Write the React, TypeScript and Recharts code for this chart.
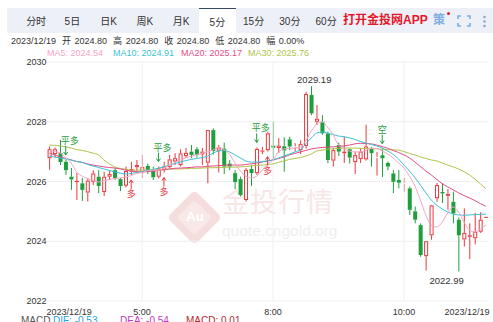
import React from 'react';
import {
  ComposedChart,
  Bar,
  Line,
  XAxis,
  YAxis,
  CartesianGrid,
  ReferenceLine,
  ReferenceDot,
} from 'recharts';

// 5-minute bars, 2023/12/19 (market pause 6:00-7:00)
const times = [
  '3:35', '3:40', '3:45', '3:50', '3:55', '4:00', '4:05', '4:10', '4:15', '4:20',
  '4:25', '4:30', '4:35', '4:40', '4:45', '4:50', '4:55', '5:00', '5:05', '5:10',
  '5:15', '5:20', '5:25', '5:30', '5:35', '5:40', '5:45', '5:50', '5:55', '7:00',
  '7:05', '7:10', '7:15', '7:20', '7:25', '7:30', '7:35', '7:40', '7:45', '7:50',
  '7:55', '8:00', '8:05', '8:10', '8:15', '8:20', '8:25', '8:30', '8:35', '8:40',
  '8:45', '8:50', '8:55', '9:00', '9:05', '9:10', '9:15', '9:20', '9:25', '9:30',
  '9:35', '9:40', '9:45', '9:50', '9:55', '10:00', '10:05', '10:10', '10:15', '10:20',
  '10:25', '10:30', '10:35', '10:40', '10:45', '10:50', '10:55', '11:00', '11:05', '11:10',
  '11:15',
];

const opens = [
  2026.78, 2026.92, 2026.95, 2026.66, 2026.16, 2025.98, 2025.94, 2025.63, 2025.99, 2026.16,
  2025.65, 2026.16, 2026.38, 2026.08, 2025.86, 2026.33, 2026.48, 2026.30, 2026.52, 2026.36,
  2026.16, 2026.38, 2026.48, 2026.67, 2026.55, 2026.85, 2027.00, 2027.08, 2026.91, 2026.63,
  2027.72, 2027.03, 2027.10, 2026.60, 2026.28, 2026.08, 2025.38, 2026.42, 2026.28, 2027.00,
  2027.05, 2027.20, 2027.12, 2027.18, 2027.41, 2027.15, 2027.05, 2027.19, 2028.90, 2028.00,
  2028.00, 2027.61, 2026.70, 2027.22, 2026.95, 2027.08, 2026.65, 2026.75, 2026.74, 2027.10,
  2026.79, 2026.88, 2026.62, 2026.27, 2026.05, 2025.92, 2025.77, 2025.00, 2024.54, 2023.50,
  2024.20, 2025.44, 2025.65, 2025.52, 2025.32, 2024.72, 2024.06, 2024.15, 2024.10, 2024.32,
  2024.80,
];

const highs = [
  2027.17, 2027.14, 2027.39, 2026.72, 2026.45, 2026.28, 2026.12, 2026.12, 2026.38, 2026.38,
  2026.33, 2026.36, 2026.45, 2026.12, 2026.50, 2026.66, 2026.72, 2026.89, 2026.60, 2026.50,
  2026.50, 2026.66, 2026.89, 2026.95, 2027.08, 2027.12, 2027.22, 2027.16, 2027.12, 2027.72,
  2027.78, 2027.22, 2027.30, 2026.72, 2026.38, 2026.16, 2026.45, 2026.55, 2027.14, 2027.16,
  2027.67, 2028.00, 2027.45, 2027.48, 2027.50, 2027.28, 2027.38, 2029.00, 2029.19, 2028.56,
  2028.22, 2027.67, 2027.12, 2027.30, 2027.50, 2027.10, 2027.00, 2027.12, 2027.90, 2027.16,
  2026.99, 2027.10, 2026.67, 2026.38, 2026.38, 2026.12, 2025.83, 2025.16, 2024.60, 2024.00,
  2025.22, 2025.95, 2025.95, 2025.75, 2025.66, 2024.80, 2025.10, 2024.60, 2024.95, 2024.97,
  2024.80,
];

const lows = [
  2026.39, 2026.80, 2026.55, 2026.22, 2025.72, 2025.38, 2025.35, 2025.33, 2025.88, 2025.61,
  2025.51, 2026.05, 2026.05, 2025.68, 2025.80, 2026.22, 2026.28, 2026.12, 2026.25, 2026.05,
  2026.10, 2026.30, 2026.44, 2026.55, 2026.50, 2026.78, 2026.78, 2026.80, 2026.55, 2025.94,
  2026.90, 2026.30, 2026.25, 2026.38, 2025.75, 2025.50, 2025.33, 2025.85, 2026.22, 2026.92,
  2027.00, 2026.72, 2026.95, 2026.33, 2027.05, 2027.00, 2026.92, 2027.10, 2028.22, 2027.89,
  2027.56, 2026.61, 2026.50, 2026.85, 2026.62, 2026.60, 2026.25, 2026.62, 2026.70, 2026.50,
  2026.20, 2026.15, 2026.38, 2025.61, 2025.77, 2025.66, 2024.88, 2024.60, 2023.48, 2023.02,
  2024.05, 2025.32, 2025.28, 2025.05, 2024.60, 2022.99, 2023.82, 2023.40, 2023.90, 2024.28,
  2024.80,
];

const closes = [
  2027.08, 2027.08, 2026.65, 2026.38, 2026.07, 2026.02, 2025.72, 2026.03, 2026.27, 2025.85,
  2026.16, 2026.25, 2026.11, 2025.85, 2026.35, 2026.42, 2026.55, 2026.48, 2026.38, 2026.14,
  2026.44, 2026.50, 2026.74, 2026.78, 2026.94, 2026.96, 2026.89, 2026.89, 2027.00, 2027.72,
  2027.02, 2027.14, 2026.50, 2026.50, 2025.98, 2025.55, 2026.39, 2026.28, 2027.09, 2027.04,
  2027.61, 2027.13, 2027.20, 2027.04, 2027.17, 2027.18, 2027.25, 2028.93, 2028.28, 2028.10,
  2027.61, 2026.72, 2027.05, 2027.00, 2027.00, 2026.80, 2026.88, 2027.00, 2027.17, 2026.95,
  2026.82, 2026.78, 2026.50, 2025.99, 2025.96, 2025.95, 2025.05, 2024.72, 2023.54, 2024.00,
  2025.20, 2025.88, 2025.60, 2025.58, 2024.93, 2024.20, 2024.28, 2024.20, 2024.32, 2024.72,
  2024.80,
];

const ma5 = [
  2027.05, 2027.00, 2026.95, 2026.79, 2026.62, 2026.32, 2026.18, 2026.10, 2026.03, 2025.98,
  2026.02, 2026.07, 2026.10, 2026.12, 2026.15, 2026.20, 2026.27, 2026.30, 2026.37, 2026.38,
  2026.38, 2026.45, 2026.55, 2026.64, 2026.72, 2026.79, 2026.84, 2026.90, 2026.95, 2027.00,
  2027.05, 2027.14, 2027.07, 2026.92, 2026.62, 2026.35, 2026.18, 2026.12, 2026.18, 2026.38,
  2026.59, 2026.72, 2026.99, 2027.09, 2027.11, 2027.12, 2027.16, 2027.36, 2027.69, 2027.92,
  2027.99, 2027.82, 2027.56, 2027.22, 2027.09, 2027.02, 2026.99, 2026.99, 2027.04, 2027.11,
  2027.11, 2027.02, 2026.92, 2026.79, 2026.62, 2026.45, 2026.18, 2025.85, 2025.38, 2024.88,
  2024.54, 2024.48, 2024.64, 2024.95, 2025.15, 2024.98, 2024.64, 2024.38, 2024.31, 2024.41,
  2024.54,
];

const ma10 = [
  2026.85, 2026.82, 2026.79, 2026.75, 2026.72, 2026.67, 2026.64, 2026.57, 2026.52, 2026.47,
  2026.42, 2026.37, 2026.32, 2026.28, 2026.25, 2026.27, 2026.30, 2026.33, 2026.37, 2026.40,
  2026.45, 2026.50, 2026.55, 2026.60, 2026.65, 2026.70, 2026.74, 2026.77, 2026.80, 2026.85,
  2026.95, 2027.02, 2027.04, 2026.99, 2026.89, 2026.79, 2026.69, 2026.65, 2026.65, 2026.67,
  2026.69, 2026.72, 2026.79, 2026.85, 2026.92, 2026.99, 2027.05, 2027.26, 2027.46, 2027.62,
  2027.66, 2027.62, 2027.57, 2027.52, 2027.50, 2027.46, 2027.41, 2027.34, 2027.29, 2027.24,
  2027.19, 2027.12, 2027.02, 2026.91, 2026.75, 2026.55, 2026.35, 2026.13, 2025.88, 2025.62,
  2025.38, 2025.21, 2025.08, 2024.98, 2024.91, 2024.88, 2024.87, 2024.88, 2024.89, 2024.90,
  2024.91,
];

const ma20 = [
  2026.95, 2026.89, 2026.82, 2026.77, 2026.72, 2026.67, 2026.64, 2026.59, 2026.55, 2026.52,
  2026.49, 2026.47, 2026.45, 2026.42, 2026.38, 2026.35, 2026.33, 2026.32, 2026.33, 2026.35,
  2026.37, 2026.40, 2026.42, 2026.44, 2026.45, 2026.46, 2026.47, 2026.49, 2026.49, 2026.51,
  2026.52, 2026.53, 2026.54, 2026.55, 2026.55, 2026.55, 2026.57, 2026.59, 2026.62, 2026.65,
  2026.69, 2026.72, 2026.77, 2026.82, 2026.89, 2026.94, 2026.99, 2027.04, 2027.09, 2027.12,
  2027.14, 2027.15, 2027.16, 2027.17, 2027.19, 2027.22, 2027.26, 2027.28, 2027.27, 2027.26,
  2027.22, 2027.17, 2027.11, 2027.04, 2026.97, 2026.89, 2026.79, 2026.65, 2026.50, 2026.35,
  2026.22, 2026.07, 2025.93, 2025.82, 2025.72, 2025.62, 2025.53, 2025.45, 2025.36, 2025.26,
  2025.17,
];

const ma30 = [
  2027.22, 2027.21, 2027.19, 2027.16, 2027.12, 2027.07, 2027.04, 2027.00, 2026.95, 2026.89,
  2026.72, 2026.59, 2026.49, 2026.44, 2026.41, 2026.38, 2026.38, 2026.38, 2026.38, 2026.39,
  2026.40, 2026.40, 2026.41, 2026.42, 2026.42, 2026.43, 2026.44, 2026.44, 2026.45, 2026.46,
  2026.46, 2026.47, 2026.47, 2026.48, 2026.48, 2026.49, 2026.50, 2026.52, 2026.54, 2026.55,
  2026.57, 2026.59, 2026.64, 2026.69, 2026.74, 2026.77, 2026.80, 2026.85, 2026.92, 2027.02,
  2027.05, 2027.08, 2027.09, 2027.11, 2027.12, 2027.12, 2027.12, 2027.11, 2027.11, 2027.10,
  2027.09, 2027.08, 2027.07, 2027.06, 2027.05, 2027.00, 2026.94, 2026.89, 2026.82, 2026.77,
  2026.72, 2026.69, 2026.62, 2026.55, 2026.49, 2026.42, 2026.33, 2026.22, 2026.08, 2025.92,
  2025.76,
];

// trade signals placed on bars
const signalTimes = ['3:50', '4:50', '5:15', '5:20', '7:45', '7:55', '9:40'];
const signalTexts = ['平多', '多', '平多', '多', '平多', '多', '空'];

const yTicks = [2022, 2024, 2026, 2028, 2030];
const xTicks = ['3:35', '5:00', '8:00', '10:00', '11:15'];
const gridTimes = ['5:00', '8:00', '10:00'];
const dayLabel = '2023/12/19';

const tabs = ['分时', '5日', '日K', '周K', '月K', '5分', '15分', '30分', '60分'];
const activeTab = '5分';

const quote = [
  ['开', '2024.80'],
  ['高', '2024.80'],
  ['收', '2024.80'],
  ['低', '2024.80'],
  ['幅', '0.00%'],
];

const RED = '#e8383d';
const GREEN = '#1f9e3d';
const MA_COLORS = { ma5: '#f5a6c7', ma10: '#3cc1d6', ma20: '#e54c86', ma30: '#b0c54a' };
const FONT = '"Liberation Sans", "Noto Sans CJK SC", sans-serif';

function Candle(props: any) {
  const { x, y, width, height, payload } = props;
  const { open, close, high, low } = payload;
  const top = Math.min(y, y + height);
  const h = Math.abs(height);
  const up = close >= open;
  const color = up ? RED : GREEN;
  const cx = x + width / 2;
  if (high === low || h === 0) {
    return <line x1={x} x2={x + width} y1={top} y2={top} stroke={color} strokeWidth={1} />;
  }
  const k = h / (high - low);
  const bodyTop = top + (high - Math.max(open, close)) * k;
  const bodyH = Math.max((Math.max(open, close) - Math.min(open, close)) * k, 1);
  return (
    <g>
      <line x1={cx} x2={cx} y1={top} y2={bodyTop} stroke={color} strokeWidth={1} />
      <line x1={cx} x2={cx} y1={bodyTop + bodyH} y2={top + h} stroke={color} strokeWidth={1} />
      {up ? (
        <rect x={x + 0.5} y={bodyTop + 0.5} width={width - 1} height={Math.max(bodyH - 1, 0)} fill="#fff" stroke={color} strokeWidth={1} />
      ) : (
        <rect x={x} y={bodyTop} width={width} height={bodyH} fill={color} />
      )}
    </g>
  );
}

function SignalMark(props: any) {
  const { cx, cy, text } = props;
  if (text === '多') {
    const tip = cy + 5;
    const tail = cy + 14;
    return (
      <g>
        <line x1={cx} x2={cx} y1={tip} y2={tail} stroke={RED} strokeWidth={1} />
        <path d={`M${cx - 2},${tip + 3} L${cx},${tip} L${cx + 2},${tip + 3}`} fill="none" stroke={RED} strokeWidth={1} />
        <text x={cx} y={tail + 8} textAnchor="middle" fontSize={9} fill={RED}>{text}</text>
      </g>
    );
  }
  const tip = cy - 5;
  const tail = cy - 14;
  return (
    <g>
      <line x1={cx} x2={cx} y1={tail} y2={tip} stroke={GREEN} strokeWidth={1} />
      <path d={`M${cx - 2},${tip - 3} L${cx},${tip} L${cx + 2},${tip - 3}`} fill="none" stroke={GREEN} strokeWidth={1} />
      <text x={text.length > 1 ? cx + 4 : cx} y={tail - 2} textAnchor="middle" fontSize={9} fill={GREEN}>{text}</text>
    </g>
  );
}

function YTick(props: any) {
  const { x, y, payload } = props;
  return (
    <text x={x} y={y} dy={3} textAnchor="end" fontSize={9} fill="#333">
      {payload.value}
    </text>
  );
}

function XTick(props: any) {
  const { x, y, payload } = props;
  const half = payload.offset || 2.7;
  if (payload.value === times[0]) {
    return <text x={x - half} y={y + 13.5} textAnchor="start" fontSize={9} fill="#333">{dayLabel}</text>;
  }
  if (payload.value === times[times.length - 1]) {
    return <text x={x + half + 1} y={y + 13.5} textAnchor="end" fontSize={9} fill="#333">{dayLabel}</text>;
  }
  return <text x={x} y={y + 13.5} textAnchor="middle" fontSize={9} fill="#333">{payload.value}</text>;
}

export default function App() {
  const data = times.map((t, i) => ({
    t,
    open: opens[i],
    high: highs[i],
    low: lows[i],
    close: closes[i],
    ma5: ma5[i],
    ma10: ma10[i],
    ma20: ma20[i],
    ma30: ma30[i],
  }));
  const hiIdx = highs.indexOf(Math.max(...highs));
  const loIdx = lows.indexOf(Math.min(...lows));
  const last = data.length - 1;

  return (
    <div style={{ position: 'absolute', left: 0, top: 0, width: 493, height: 322, overflow: 'hidden', background: '#fff', fontFamily: FONT, color: '#333' }}>
      {/* period tabs */}
      <div style={{ position: 'absolute', left: 7, top: 8, width: 486, height: 25, background: '#edf1f7' }} />
      {tabs.map((t, i) => (
        <div
          key={t}
          style={{
            position: 'absolute',
            left: 18 + i * 36.25,
            top: 8,
            width: 36.25,
            height: 25,
            boxSizing: 'border-box',
            display: 'flex',
            alignItems: 'center',
            justifyContent: 'center',
            fontSize: 10,
            color: '#333',
            background: t === activeTab ? '#fff' : 'transparent',
            borderTop: t === activeTab ? '1px solid #34495e' : 'none',
          }}
        >
          {t}
        </div>
      ))}
      <div style={{ position: 'absolute', left: 343, top: 13, fontSize: 12, lineHeight: '15px', fontWeight: 700, color: '#e5162a', whiteSpace: 'nowrap' }}>
        打开金投网APP
      </div>
      <div style={{ position: 'absolute', left: 433, top: 13, fontSize: 12, lineHeight: '15px', fontWeight: 700, color: '#7faee0' }}>策</div>
      <div style={{ position: 'absolute', left: 447, top: 12, width: 3, height: 3, borderRadius: 2, background: '#e5162a' }} />
      <svg style={{ position: 'absolute', left: 457, top: 15 }} width={14} height={12}>
        <path d="M1,4 V1 H4 M10,1 H13 V4 M13,8 V11 H10 M4,11 H1 V8" fill="none" stroke="#7faee0" strokeWidth={1.6} />
      </svg>
      <svg style={{ position: 'absolute', left: 482, top: 15 }} width={5} height={13}>
        <circle cx={2.5} cy={2} r={1.3} fill="#8aa9c8" />
        <circle cx={2.5} cy={6.5} r={1.3} fill="#8aa9c8" />
        <circle cx={2.5} cy={11} r={1.3} fill="#8aa9c8" />
      </svg>

      {/* quote row */}
      <div style={{ position: 'absolute', left: 11, top: 36.5, fontSize: 9, lineHeight: '9px', whiteSpace: 'nowrap', color: '#333' }}>
        <span>{dayLabel}</span>
        {quote.map(([k, v]) => (
          <span key={k}>
            <span style={{ marginLeft: 6 }}>{k}</span>
            <span style={{ marginLeft: 3.5 }}>{v}</span>
          </span>
        ))}
      </div>

      {/* moving-average legend */}
      {[
        ['MA5', ma5[last], MA_COLORS.ma5, 47],
        ['MA10', ma10[last], MA_COLORS.ma10, 113],
        ['MA20', ma20[last], MA_COLORS.ma20, 181],
        ['MA30', ma30[last], MA_COLORS.ma30, 248],
      ].map(([name, v, c, left]) => (
        <div key={name as string} style={{ position: 'absolute', left: left as number, top: 48.5, fontSize: 9, lineHeight: '9px', color: c as string, whiteSpace: 'nowrap' }}>
          {`${name}: ${(v as number).toFixed(2)}`}
        </div>
      ))}

      {/* watermark */}
      <div style={{ position: 'absolute', left: 175, top: 198, width: 39, height: 39, transform: 'rotate(45deg)', borderRadius: 5, background: '#f6dddd' }} />
      <div style={{ position: 'absolute', left: 182, top: 205, width: 25, height: 25, transform: 'rotate(45deg)', borderRadius: 3, background: '#f9e8e8' }} />
      <div style={{ position: 'absolute', left: 180, top: 209, width: 30, textAlign: 'center', fontSize: 13, lineHeight: '16px', color: '#fff', fontWeight: 700 }}>Au</div>
      <div style={{ position: 'absolute', left: 222, top: 185, fontSize: 27, lineHeight: '32px', color: '#f8e6e6', letterSpacing: 1, whiteSpace: 'nowrap', fontFamily: '"Noto Sans CJK SC", sans-serif' }}>
        金投行情
      </div>
      <div style={{ position: 'absolute', left: 222, top: 221, fontSize: 15.5, lineHeight: '20px', color: '#eeeeee', whiteSpace: 'nowrap' }}>
        quote.cngold.org
      </div>

      <div style={{ position: 'absolute', left: 0, top: 0 }}>
        <ComposedChart width={493} height={322} data={data} margin={{ top: 62, right: 4.4, bottom: 0, left: 0 }}>
          <CartesianGrid vertical={false} stroke="#efefef" />
          {gridTimes.map((t) => (
            <ReferenceLine key={t} x={t} stroke="#f0f0f0" />
          ))}
          <XAxis
            dataKey="t"
            ticks={xTicks}
            interval={0}
            tickLine={false}
            axisLine={false}
            tickSize={0}
            tickMargin={0}
            height={21}
            tick={<XTick />}
          />
          <YAxis
            domain={[2022, 2030]}
            ticks={yTicks}
            allowDataOverflow
            width={46.6}
            tickLine={false}
            axisLine={false}
            tickSize={0}
            tickMargin={0}
            tick={<YTick />}
          />
          <Bar dataKey={(d: any) => [d.low, d.high]} barSize={4} shape={(p: any) => <Candle {...p} />} isAnimationActive={false} />
          <Line type="monotone" dataKey="ma30" stroke={MA_COLORS.ma30} strokeWidth={1} dot={false} activeDot={false} isAnimationActive={false} />
          <Line type="monotone" dataKey="ma20" stroke={MA_COLORS.ma20} strokeWidth={1} dot={false} activeDot={false} isAnimationActive={false} />
          <Line type="monotone" dataKey="ma10" stroke={MA_COLORS.ma10} strokeWidth={1} dot={false} activeDot={false} isAnimationActive={false} />
          <Line type="monotone" dataKey="ma5" stroke={MA_COLORS.ma5} strokeWidth={1} dot={false} activeDot={false} isAnimationActive={false} />
          {signalTimes.map((t, i) => {
            const idx = times.indexOf(t);
            const text = signalTexts[i];
            const y = text === '多' ? lows[idx] : highs[idx];
            return (
              <ReferenceDot key={t} x={t} y={y} ifOverflow="visible" shape={(p: any) => <SignalMark {...p} text={text} />} />
            );
          })}
          <ReferenceDot
            x={times[hiIdx]}
            y={highs[hiIdx]}
            ifOverflow="visible"
            shape={(p: any) => (
              <text x={p.cx + 3} y={p.cy - 3} textAnchor="middle" fontSize={9.5} fill="#333">
                {highs[hiIdx].toFixed(2)}
              </text>
            )}
          />
          <ReferenceDot
            x={times[loIdx]}
            y={lows[loIdx]}
            ifOverflow="visible"
            shape={(p: any) => (
              <text x={p.cx - 12} y={p.cy + 13} textAnchor="middle" fontSize={9.5} fill="#333">
                {lows[loIdx].toFixed(2)}
              </text>
            )}
          />
        </ComposedChart>
      </div>

      {/* MACD header, clipped by the frame */}
      <div style={{ position: 'absolute', left: 21, top: 315.5, fontSize: 10, lineHeight: '10px', whiteSpace: 'nowrap' }}>
        <span style={{ color: '#555' }}>MACD</span>
        <span style={{ position: 'absolute', left: 32, color: '#1aa7e0' }}>DIF: -0.53</span>
        <span style={{ position: 'absolute', left: 99, color: '#c23bc2' }}>DEA: -0.54</span>
        <span style={{ position: 'absolute', left: 165, color: '#b8282b' }}>MACD: 0.01</span>
      </div>
    </div>
  );
}
